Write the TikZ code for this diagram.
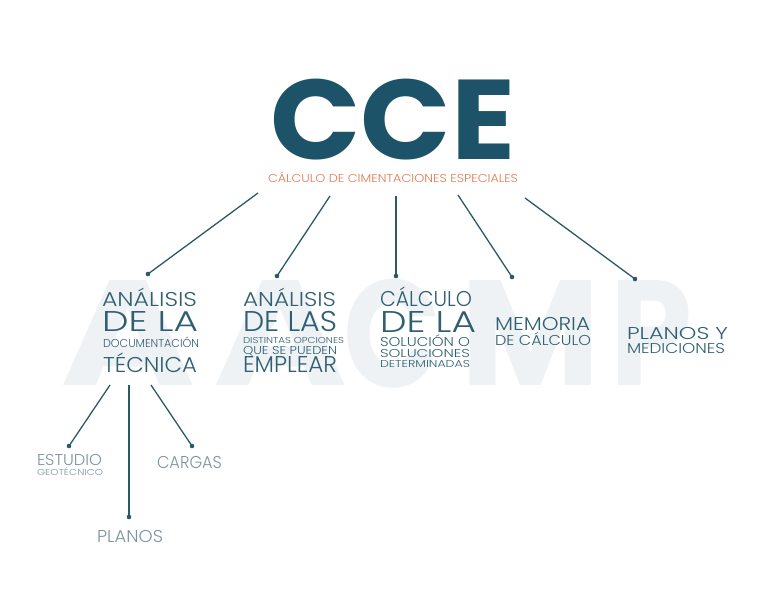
\documentclass[tikz,border=0pt]{standalone}
\usepackage{fontspec}
\usepackage{graphicx}
\setmainfont{Poppins}
\newfontfamily\lightfont{Poppins Light}
\definecolor{ccedark}{HTML}{1D5368}
\definecolor{labc}{HTML}{2F5F70}
\definecolor{subc}{HTML}{E07A52}
\definecolor{lowc}{HTML}{7D959F}
\definecolor{linec}{HTML}{2A5A6A}
\definecolor{wmc}{HTML}{EEF2F4}
\newcommand\fitline[3]{\resizebox{#2pt}{\height}{\fontsize{\fpeval{#1/0.7}pt}{\fpeval{#1/0.7*1.2}pt}\selectfont #3}}
\newcommand\wmletter[3]{\resizebox*{#1pt}{#2pt}{\bfseries #3}}
\tikzset{
  lab/.style={anchor=base west, inner sep=0pt, outer sep=0pt, text=labc, font=\lightfont},
  lowlab/.style={lab, text=lowc},
  wm/.style={anchor=south west, inner sep=0pt, text=wmc},
  conn/.style={draw=linec, line width=1.3pt},
  dotnode/.style={circle, fill=linec, inner sep=0pt, minimum size=4.6pt}
}
\begin{document}
\begin{tikzpicture}[x=1pt,y=-1pt]
\useasboundingbox[fill=white] (0,0) rectangle (768,609);
% watermark
\node[wm] (w1) at (60,386) {\wmletter{135}{105}{A}};
\node[wm] (w2) at (213,386) {\wmletter{134}{105}{A}};
\node[wm] (w3) at (343,388) {\wmletter{98}{109}{C}};
\node[wm] (w4) at (460,386) {\wmletter{140}{105}{M}};
\node[wm] (w5) at (610,386) {\wmletter{82}{105}{P}};
% title
\node[anchor=south west, inner sep=0pt, text=ccedark] (cce) at (270,160) {\resizebox*{245pt}{81pt}{\bfseries CCE}};
\node[lab, text=subc] (sub) at (268,183) {\fitline{8}{250}{CÁLCULO DE CIMENTACIONES ESPECIALES}};
% block 1
\node[lab] (a1) at (102,307) {\fitline{14}{95}{ANÁLISIS}};
\node[lab] (a2) at (102,332) {\fitline{20}{96}{DE LA}};
\node[lab] (a3) at (103,348) {\fitline{8}{96}{DOCUMENTACIÓN}};
\node[lab] (a4) at (103,372) {\fitline{15}{94}{TÉCNICA}};
% block 2
\node[lab] (b1) at (243,307) {\fitline{14}{93}{ANÁLISIS}};
\node[lab] (b2) at (243,332) {\fitline{20}{94}{DE LAS}};
\node[lab] (b3) at (243,344) {\fitline{6}{101}{DISTINTAS OPCIONES}};
\node[lab] (b4) at (243,355) {\fitline{8}{94}{QUE SE PUEDEN}};
\node[lab] (b5) at (243,373) {\fitline{16}{94}{EMPLEAR}};
% block 3
\node[lab] (c1) at (380,307) {\fitline{15}{92}{CÁLCULO}};
\node[lab] (c2) at (380,333) {\fitline{21}{96}{DE LA}};
\node[lab] (c3) at (380,347) {\fitline{9}{90}{SOLUCIÓN O}};
\node[lab] (c4) at (380,358) {\fitline{8}{90}{SOLUCIONES}};
\node[lab] (c5) at (380,367) {\fitline{7}{90}{DETERMINADAS}};
% block 4
\node[lab] (d1) at (495,331) {\fitline{13}{95}{MEMORIA}};
\node[lab] (d2) at (495,345) {\fitline{10}{96}{DE CÁLCULO}};
% block 5
\node[lab] (e1) at (627,340) {\fitline{12}{101}{PLANOS Y}};
\node[lab] (e2) at (627,354) {\fitline{10}{98}{MEDICIONES}};
% lower labels
\node[lowlab] (f1) at (37,465) {\fitline{11}{65}{ESTUDIO}};
\node[lowlab] (f2) at (37,475) {\fitline{6}{66}{GEOTÉCNICO}};
\node[lowlab] (g1) at (157,468) {\fitline{12}{65}{CARGAS}};
\node[lowlab] (h1) at (97,542) {\fitline{12}{66}{PLANOS}};
% connectors top
\coordinate (t1) at (258,193);
\coordinate (t2) at (330,196);
\coordinate (t3) at (396,196);
\coordinate (t4) at (458,195);
\coordinate (t5) at (525,198);
\node[dotnode] (p1) at (148,274) {};
\node[dotnode] (p2) at (277,276) {};
\node[dotnode] (p3) at (396,276) {};
\node[dotnode] (p4) at (512,277) {};
\node[dotnode] (p5) at (635,279) {};
\draw[conn] (t1) -- (p1.center);
\draw[conn] (t2) -- (p2.center);
\draw[conn] (t3) -- (p3.center);
\draw[conn] (t4) -- (p4.center);
\draw[conn] (t5) -- (p5.center);
% connectors lower
\coordinate (u1) at (110,385);
\coordinate (u2) at (129,385);
\coordinate (u3) at (151,385);
\node[dotnode] (q1) at (69,446) {};
\node[dotnode] (q2) at (129,517) {};
\node[dotnode] (q3) at (192,446) {};
\draw[conn] (u1) -- (q1.center);
\draw[conn] (u2) -- (q2.center);
\draw[conn] (u3) -- (q3.center);
\end{tikzpicture}
\end{document}
